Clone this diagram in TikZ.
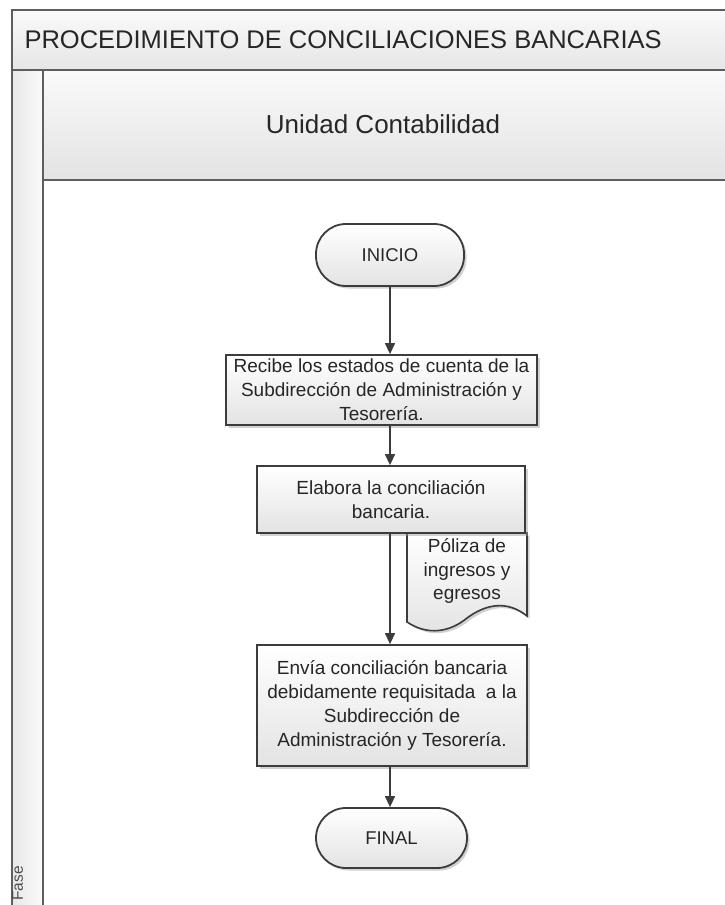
\documentclass[tikz,border=0pt]{standalone}
\usepackage{fontspec}
\setmainfont{Liberation Sans}
\usetikzlibrary{arrows.meta,shadows}
\definecolor{ln}{HTML}{3C3C3C}
\definecolor{frm}{HTML}{5E5E5E}
\begin{document}
\begin{tikzpicture}[x=1pt,y=-1pt,
  shd/.style={drop shadow={shadow xshift=2.5pt,shadow yshift=-2.5pt,fill=black!40,opacity=0.45}},
  proc/.style={draw=ln,line width=1.8pt,top color=white,bottom color=black!11,
    align=center,inner sep=0pt,text=black!85,font=\fontsize{19}{24}\selectfont,shd},
  term/.style={proc,rounded corners=30pt,font=\fontsize{18.5}{22}\selectfont},
  arr/.style={draw=ln,line width=1.3pt,-{Triangle[length=11pt,width=10pt]}},
  fr/.style={draw=frm,line width=1.5pt}]
\useasboundingbox (0,0) rectangle (725,905);
\clip (0,0) rectangle (725,905);
\fill[white] (0,0) rectangle (725,905);
% bands
\path[top color=black!2,bottom color=black!10] (12,10) rectangle (727,70);
\path[top color=black!2,bottom color=black!11] (43,70) rectangle (727,180);
\path[left color=black!9,right color=black!2] (12,70) rectangle (43,907);
\draw[fr] (727,10) -- (12,10) -- (12,907);
\draw[fr] (12,70) -- (727,70);
\draw[fr] (43,70) -- (43,907);
\draw[fr] (43,180) -- (727,180);
\node[anchor=base west,text=black!85,font=\fontsize{25.5}{30}\selectfont] (title) at (21,48) {PROCEDIMIENTO DE CONCILIACIONES BANCARIAS};
\node[anchor=base,text=black!85,font=\fontsize{26}{30}\selectfont] (lane) at (383,133) {Unidad Contabilidad};
\node[rotate=90,anchor=base east,text=black!70,font=\fontsize{15.5}{18}\selectfont,inner sep=0pt] (fase) at (23,866) {Fase};
% flow
\coordinate (ax) at (390,0);
\node[term,minimum width=148pt,minimum height=62pt] (inicio) at (390,255) {INICIO};
\node[proc,minimum width=311pt,minimum height=70pt] (b1) at (381.5,390)
  {Recibe los estados de cuenta de la\\Subdirección de Administración y\\Tesorería.};
\path[draw=ln,line width=1.6pt,top color=white,bottom color=black!11,shd]
  (407,533) -- (527,533) -- (527,616) .. controls (507,600) and (486,604) .. (467,618)
  .. controls (450,632) and (428,636) .. (407,622) -- cycle;
\node[align=center,text=black!85,font=\fontsize{19}{23.5}\selectfont] (doc) at (467,571) {Póliza de\\ingresos y\\egresos};
\node[proc,minimum width=268pt,minimum height=67pt] (b2) at (391,499.5)
  {Elabora la conciliación\\bancaria.};
\node[proc,minimum width=270pt,minimum height=121pt] (b3) at (392,705.5)
  {Envía conciliación bancaria\\debidamente requisitada \ a la\\Subdirección de\\Administración y Tesorería.};
\node[term,minimum width=151pt,minimum height=60pt] (final) at (391.5,838) {FINAL};
\draw[arr] (ax |- inicio.south) -- (ax |- b1.north);
\draw[arr] (ax |- b1.south) -- (ax |- b2.north);
\draw[arr] (ax |- b2.south) -- (ax |- b3.north);
\draw[arr] (ax |- b3.south) -- (ax |- final.north);
\end{tikzpicture}
\end{document}
